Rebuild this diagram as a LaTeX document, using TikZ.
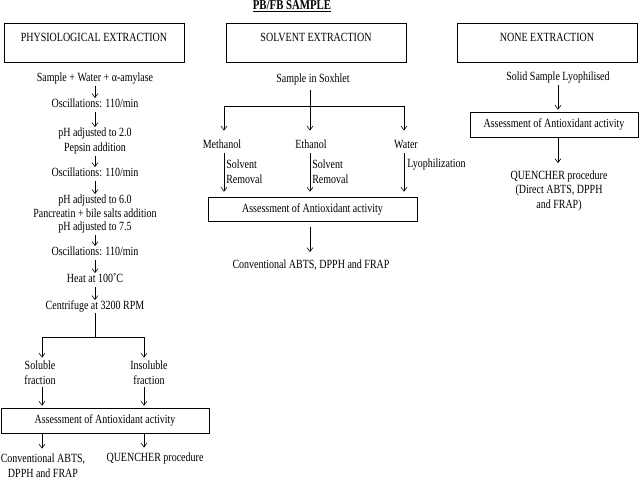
\documentclass[tikz,border=0pt]{standalone}
\usepackage{fontspec}
\setmainfont{Liberation Serif}[FakeStretch=0.8]
\usetikzlibrary{arrows.meta}
\begin{document}
\begin{tikzpicture}[x=1pt,y=-1pt,
  every node/.style={font=\fontsize{12.5}{14.5}\selectfont},
  txt/.style={inner sep=0pt,text height=9pt,text depth=2.5pt},
  mtxt/.style={inner sep=0pt,align=center},
  ltxt/.style={inner sep=0pt,align=left},
  hdr/.style={draw,line width=0.6pt,minimum width=180pt,inner sep=0pt,text height=18pt,text depth=21pt},
  abox/.style={draw,line width=0.6pt,inner sep=0pt,text height=9pt,text depth=2.5pt,minimum height=25pt},
  arr/.style={line width=0.6pt,-{Straight Barb[length=4pt,width=6pt]}},
  ln/.style={line width=0.6pt}]
\useasboundingbox (0,0) rectangle (640,480);

% title
\node[font=\bfseries\fontsize{13.5}{14}\selectfont,inner sep=0pt] (title) at (292,6) {\underline{PB/FB SAMPLE}};

% headers
\node[hdr] (hP) at (94,42.5) {PHYSIOLOGICAL EXTRACTION};
\node[hdr] (hS) at (316,42.5) {SOLVENT EXTRACTION};
\node[hdr] (hN) at (547,42.5) {NONE EXTRACTION};

% left column
\node[txt] (L1) at (95,78) {Sample + Water + α-amylase};
\node[txt] (L2) at (95,104) {Oscillations: 110/min};
\node[txt] (L3) at (95,133) {pH adjusted to 2.0};
\node[txt] (L4) at (95,148) {Pepsin addition};
\node[txt] (L5) at (95,173) {Oscillations: 110/min};
\node[txt] (L6) at (95,200) {pH adjusted to 6.0};
\node[txt] (L7) at (95,214) {Pancreatin + bile salts addition};
\node[txt] (L8) at (95,227) {pH adjusted to 7.5};
\node[txt] (L9) at (95,252) {Oscillations: 110/min};
\node[txt] (L10) at (95,279) {Heat at 100˚C};
\node[txt] (L11) at (95,306) {Centrifuge at 3200 RPM};
\foreach \a/\b in {L1/L2,L2/L3,L4/L5,L5/L6,L8/L9,L9/L10,L10/L11}
  \draw[arr,shorten <=2.5pt] (\a) -- (\b);

\coordinate (cL) at (95,337);
\coordinate (bl) at (42,337);
\coordinate (br) at (144,337);
\draw[ln,shorten <=1pt] (L11) -- (cL);
\draw[ln] (bl) -- (br);
\node[mtxt] (sol) at (40,372.5) {Soluble\\fraction};
\node[mtxt] (ins) at (149,372.5) {Insoluble\\fraction};
\draw[arr,shorten >=3pt] (bl) -- (bl |- sol.north);
\draw[arr,shorten >=3pt] (br) -- (br |- ins.north);

\node[abox,minimum width=208pt] (A1) at (105,420.5) {Assessment of Antioxidant activity};
\draw[arr,shorten <=3pt,shorten >=2pt] (bl |- sol.south) -- (bl |- A1.north);
\draw[arr,shorten <=3pt,shorten >=2pt] (br |- ins.south) -- (br |- A1.north);

\node[mtxt] (conv1) at (43,465.5) {Conventional ABTS,\\DPPH and FRAP};
\node[txt] (que1) at (155,458) {QUENCHER procedure};
\draw[arr,shorten >=5pt] (bl |- A1.south) -- (bl |- conv1.north);
\draw[arr,shorten >=4.5pt] (br |- A1.south) -- (br |- que1.north);

% middle column
\node[txt] (M1) at (313,79) {Sample in Soxhlet};
\coordinate (cm) at (310,106);
\coordinate (ml) at (224,106);
\coordinate (mr) at (404,106);
\node[txt] (meth) at (222,145) {Methanol};
\node[txt] (eth) at (311,145) {Ethanol};
\node[txt] (wat) at (406,145) {Water};
\draw[ln] (ml) -- (mr);
\draw[arr,shorten <=5pt,shorten >=8.5pt] (M1.south -| cm) -- (cm |- eth.north);
\draw[arr,shorten >=8.5pt] (ml) -- (ml |- meth.north);
\draw[arr,shorten >=8.5pt] (mr) -- (mr |- wat.north);

\node[abox,minimum width=209pt,minimum height=24pt] (A2) at (312.5,209) {Assessment of Antioxidant activity};
\draw[arr,shorten <=2pt,shorten >=5pt] (ml |- meth.south) -- node[ltxt,right,pos=0.45,xshift=2pt] {Solvent\\Removal} (ml |- A2.north);
\draw[arr,shorten <=2pt,shorten >=5pt] (cm |- eth.south) -- node[ltxt,right,pos=0.45,xshift=2pt] {Solvent\\Removal} (cm |- A2.north);
\draw[arr,shorten <=2pt,shorten >=5pt] (mr |- wat.south) -- node[txt,right,pos=0.3,xshift=3pt] {Lyophilization} (mr |- A2.north);

\node[txt] (conv2) at (311,265) {Conventional ABTS, DPPH and FRAP};
\draw[arr,shorten <=6pt,shorten >=7pt] (cm |- A2.south) -- (cm |- conv2.north);

% right column
\node[txt] (R1) at (558,77) {Solid Sample Lyophilised};
\node[abox,minimum width=168pt] (A3) at (554,124.5) {Assessment of Antioxidant activity};
\node[mtxt] (Q) at (559,190.5) {QUENCHER procedure\\(Direct ABTS, DPPH\\and FRAP)};
\draw[arr,shorten <=2.5pt,shorten >=2pt] (R1.south) -- (R1.south |- A3.north);
\draw[arr,shorten >=7pt] (R1.south |- A3.south) -- (R1.south |- Q.north);
\end{tikzpicture}
\end{document}
